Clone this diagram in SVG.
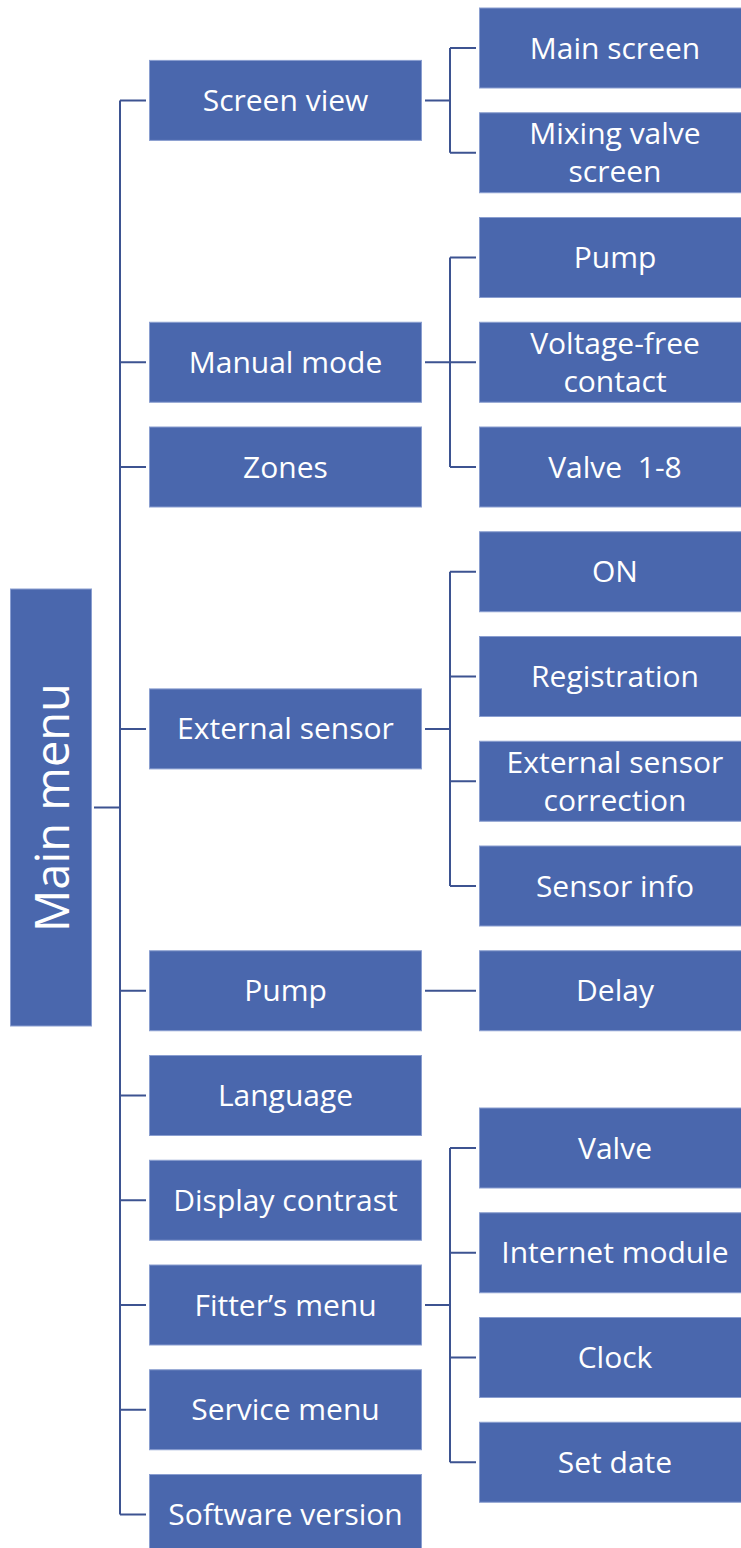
<svg xmlns="http://www.w3.org/2000/svg" width="741" height="1548" viewBox="0 0 741 1548">
<style>
.b{fill:#4a67ad;stroke:#8a9ed0;stroke-width:1}
.t{font-family:"Open Sans","Liberation Sans",sans-serif;font-size:30px;fill:#ffffff;text-anchor:middle;dominant-baseline:central}
.c{fill:none;stroke:#3d5391;stroke-width:2}
</style>
<rect width="741" height="1548" fill="#ffffff"/>
<g id="connectors">
<path class="c" d="M94 807.5H120M120 100.4V1514.5M120 100.4H146M120 362.25H146M120 467H146M120 728.9H146M120 990.75H146M120 1095.5H146M120 1200.25H146M120 1305H146M120 1409.75H146M120 1514.5H146"/>
<path class="c" d="M425 100.4H450M450 48V152.75M450 48H476M450 152.75H476"/>
<path class="c" d="M425 362.25H450M450 257.5V467M450 257.5H476M450 362.25H476M450 467H476"/>
<path class="c" d="M425 728.9H450M450 571.75V886M450 571.75H476M450 676.5H476M450 781.25H476M450 886H476"/>
<path class="c" d="M425 990.75H476"/>
<path class="c" d="M425 1305H450M450 1148V1462.25M450 1148H476M450 1252.75H476M450 1357.5H476M450 1462.25H476"/>
</g>
<g id="main-menu"><rect class="b" x="10.5" y="589" width="81" height="437"/><text class="t" style="font-size:47px" transform="translate(50.5 807.5) rotate(-90)">Main menu</text></g>
<g id="screen-view"><rect class="b" x="149.5" y="60.4" width="272" height="80"/><text class="t" x="285.5" y="99.4">Screen view</text></g>
<g id="manual-mode"><rect class="b" x="149.5" y="322.25" width="272" height="80"/><text class="t" x="285.5" y="361.25">Manual mode</text></g>
<g id="zones"><rect class="b" x="149.5" y="427" width="272" height="80"/><text class="t" x="285.5" y="466">Zones</text></g>
<g id="external-sensor"><rect class="b" x="149.5" y="688.9" width="272" height="80"/><text class="t" x="285.5" y="727.9">External sensor</text></g>
<g id="pump"><rect class="b" x="149.5" y="950.75" width="272" height="80"/><text class="t" x="285.5" y="989.75">Pump</text></g>
<g id="language"><rect class="b" x="149.5" y="1055.5" width="272" height="80"/><text class="t" x="285.5" y="1094.5">Language</text></g>
<g id="display-contrast"><rect class="b" x="149.5" y="1160.25" width="272" height="80"/><text class="t" x="285.5" y="1199.25">Display contrast</text></g>
<g id="fitters-menu"><rect class="b" x="149.5" y="1265" width="272" height="80"/><text class="t" x="285.5" y="1304">Fitter’s menu</text></g>
<g id="service-menu"><rect class="b" x="149.5" y="1369.75" width="272" height="80"/><text class="t" x="285.5" y="1408.75">Service menu</text></g>
<g id="software-version"><rect class="b" x="149.5" y="1474.5" width="272" height="80"/><text class="t" x="285.5" y="1513.5">Software version</text></g>
<g id="main-screen"><rect class="b" x="479.5" y="8" width="262" height="80"/><text class="t" x="615" y="47">Main screen</text></g>
<g id="mixing-valve-screen"><rect class="b" x="479.5" y="112.75" width="262" height="80"/><text class="t" x="615" y="132.75">Mixing valve</text><text class="t" x="615" y="170.75">screen</text></g>
<g id="pump-sub"><rect class="b" x="479.5" y="217.5" width="262" height="80"/><text class="t" x="615" y="256.5">Pump</text></g>
<g id="voltage-free-contact"><rect class="b" x="479.5" y="322.25" width="262" height="80"/><text class="t" x="615" y="342.25">Voltage-free</text><text class="t" x="615" y="380.25">contact</text></g>
<g id="valve-1-8"><rect class="b" x="479.5" y="427" width="262" height="80"/><text class="t" x="615" y="466" style="white-space:pre">Valve  1-8</text></g>
<g id="on"><rect class="b" x="479.5" y="531.75" width="262" height="80"/><text class="t" x="615" y="570.75">ON</text></g>
<g id="registration"><rect class="b" x="479.5" y="636.5" width="262" height="80"/><text class="t" x="615" y="675.5">Registration</text></g>
<g id="external-sensor-correction"><rect class="b" x="479.5" y="741.25" width="262" height="80"/><text class="t" x="615" y="761.25">External sensor</text><text class="t" x="615" y="799.25">correction</text></g>
<g id="sensor-info"><rect class="b" x="479.5" y="846" width="262" height="80"/><text class="t" x="615" y="885">Sensor info</text></g>
<g id="delay"><rect class="b" x="479.5" y="950.75" width="262" height="80"/><text class="t" x="615" y="989.75">Delay</text></g>
<g id="valve"><rect class="b" x="479.5" y="1108" width="262" height="80"/><text class="t" x="615" y="1147">Valve</text></g>
<g id="internet-module"><rect class="b" x="479.5" y="1212.75" width="262" height="80"/><text class="t" x="615" y="1251.75">Internet module</text></g>
<g id="clock"><rect class="b" x="479.5" y="1317.5" width="262" height="80"/><text class="t" x="615" y="1356.5">Clock</text></g>
<g id="set-date"><rect class="b" x="479.5" y="1422.25" width="262" height="80"/><text class="t" x="615" y="1461.25">Set date</text></g>
</svg>
